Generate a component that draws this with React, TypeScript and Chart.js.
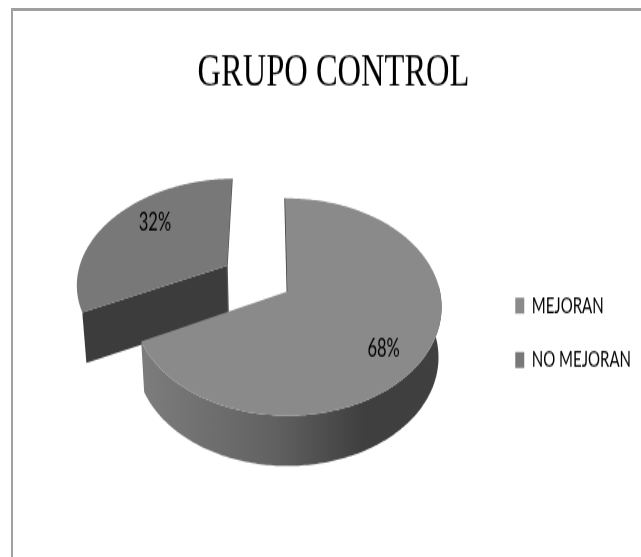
import React, { useEffect, useRef } from "react";
import { Chart, registerables } from "chart.js";

Chart.register(...registerables);

const TITLE = "GRUPO CONTROL";
const categories = ["MEJORAN", "NO MEJORAN"];
const percentages = [68, 32];
const faceColors = ["#8a8a8a", "#787878"];
const explodeAmounts = [0, 0.48];
const labelRadii = [0.7, 0.62];
const labelShifts = [16, -12];

// The source picture is a vertically stretched image of the chart.
const STRETCH = 1.45;
const WIDTH = 641;
const HEIGHT = 557;
const ZOOM = 1.165;
const TILT = 0.697;
const PERSPECTIVE = 0.143;
const DEPTH = 0.33;
const CENTER_DX = 28;

const piePlugin = {
  id: "tiltedPie",
  beforeDatasetsDraw(chart: any) {
    const ctx = chart.ctx as CanvasRenderingContext2D;
    const arcs = chart.getDatasetMeta(0).data as any[];
    const frames = arcs.map((el, i) => {
      const rx = el.outerRadius * ZOOM;
      const ry = (rx * TILT) / STRETCH;
      const cx = el.x + CENTER_DX;
      const cy = el.y;
      const mid = (el.startAngle + el.endAngle) / 2;
      const ox = Math.cos(mid) * explodeAmounts[i];
      const oy = Math.sin(mid) * explodeAmounts[i];
      const depth = (rx * DEPTH) / STRETCH;
      const project = (u: number, v: number, low = false) => {
        const w = 1 - PERSPECTIVE * (v + oy);
        const shrink = low ? 0.98 : 1;
        return [
          cx + (rx * (u + ox) * shrink) / w,
          cy + (ry * (v + oy)) / w + (low ? depth : 0),
        ];
      };
      return { el, project, rx, cx };
    });

    const trace = (pts: number[][]) => {
      pts.forEach((p, i) => (i ? ctx.lineTo(p[0], p[1]) : ctx.moveTo(p[0], p[1])));
    };
    const rim = (f: any, low: boolean, keep: (a: number) => boolean) => {
      const pts: number[][] = [];
      const steps = 240;
      for (let s = 0; s <= steps; s++) {
        const a = f.el.startAngle + ((f.el.endAngle - f.el.startAngle) * s) / steps;
        if (keep(a)) pts.push(f.project(Math.cos(a), Math.sin(a), low));
      }
      return pts;
    };

    const drawOrder = frames.map((_, i) => i).reverse();
    drawOrder.forEach((i) => {
      const f = frames[i];
      const front = (a: number) => Math.sin(a) > -0.06;
      const start = [Math.cos(f.el.startAngle), Math.sin(f.el.startAngle)];
      const end = [Math.cos(f.el.endAngle), Math.sin(f.el.endAngle)];

      if (i === 0) {
        const g = ctx.createLinearGradient(f.cx - f.rx, 0, f.cx + f.rx, 0);
        g.addColorStop(0, "#7e7e7e");
        g.addColorStop(0.45, "#626262");
        g.addColorStop(0.75, "#3f3f3f");
        g.addColorStop(1, "#404040");
        ctx.fillStyle = g;
        const top = rim(f, false, front);
        const low = rim(f, true, front).reverse();
        ctx.beginPath();
        trace(top.concat(low));
        ctx.closePath();
        ctx.fill();
        // sliver of the cut wall beside the top edge
        ctx.strokeStyle = "#444444";
        ctx.lineWidth = 1.6;
        ctx.beginPath();
        trace([f.project(0, 0), f.project(start[0], start[1])]);
        ctx.stroke();
      } else {
        // dark cut wall facing the viewer
        ctx.fillStyle = "#3c3c3c";
        ctx.beginPath();
        trace([
          f.project(start[0], start[1]),
          f.project(0, 0),
          f.project(0, 0, true),
          f.project(start[0], start[1], true),
        ]);
        ctx.closePath();
        ctx.fill();
        ctx.strokeStyle = "#555555";
        ctx.lineWidth = 1.4;
        ctx.beginPath();
        trace([f.project(end[0], end[1]), f.project(0, 0), f.project(0, 0, true)]);
        ctx.stroke();
      }

      ctx.fillStyle = faceColors[i];
      ctx.beginPath();
      trace([f.project(0, 0), ...rim(f, false, () => true)]);
      ctx.closePath();
      ctx.fill();
    });

    ctx.fillStyle = "#000000";
    ctx.font = "16.5px Lato";
    ctx.textAlign = "center";
    ctx.textBaseline = "middle";
    frames.forEach((f, i) => {
      const mid = (f.el.startAngle + f.el.endAngle) / 2;
      const p = f.project(Math.cos(mid) * labelRadii[i], Math.sin(mid) * labelRadii[i]);
      ctx.fillText(percentages[i] + "%", p[0], p[1] + labelShifts[i] / STRETCH);
    });
    return false;
  },
};

export default function App() {
  const ref = useRef<HTMLCanvasElement>(null);

  useEffect(() => {
    const chart = new Chart(ref.current as HTMLCanvasElement, {
      type: "pie",
      data: {
        labels: categories,
        datasets: [
          {
            data: percentages,
            backgroundColor: faceColors,
            borderWidth: 0,
          },
        ],
      },
      options: {
        animation: false,
        responsive: false,
        rotation: -1,
        layout: { padding: { left: 26, top: 0, right: 0, bottom: 52 } },
        plugins: {
          tooltip: { enabled: false },
          title: {
            display: true,
            text: TITLE,
            color: "#000000",
            font: { family: "'Liberation Serif'", size: 32.5, weight: "normal" },
            padding: { top: 31, bottom: 0 },
          },
          legend: {
            position: "right",
            title: {
              display: true,
              text: " ",
              font: { size: 10 },
              padding: { top: 12, bottom: 103 },
            },
            labels: {
              color: "#000000",
              font: { family: "Lato", size: 15 },
              boxWidth: 9,
              boxHeight: 11,
              padding: 22.5,
            },
          },
        },
      } as any,
      plugins: [piePlugin],
    });
    return () => chart.destroy();
  }, []);

  return (
    <div
      style={{
        position: "absolute",
        left: 0,
        top: 0,
        width: WIDTH,
        height: HEIGHT,
        overflow: "hidden",
        background: "#ffffff",
      }}
    >
      <div
        style={{
          position: "absolute",
          left: 0,
          top: 0,
          width: WIDTH,
          transformOrigin: "0 0",
          transform: `scaleY(${STRETCH})`,
          filter: "blur(0.35px)",
        }}
      >
        <canvas ref={ref} width={WIDTH} height={Math.round(HEIGHT / STRETCH)} />
      </div>
      <div
        style={{
          position: "absolute",
          left: 11,
          top: 8,
          width: WIDTH,
          height: HEIGHT,
          borderTop: "3px solid #a0a0a0",
          borderLeft: "2px solid #a0a0a0",
        }}
      />
    </div>
  );
}
